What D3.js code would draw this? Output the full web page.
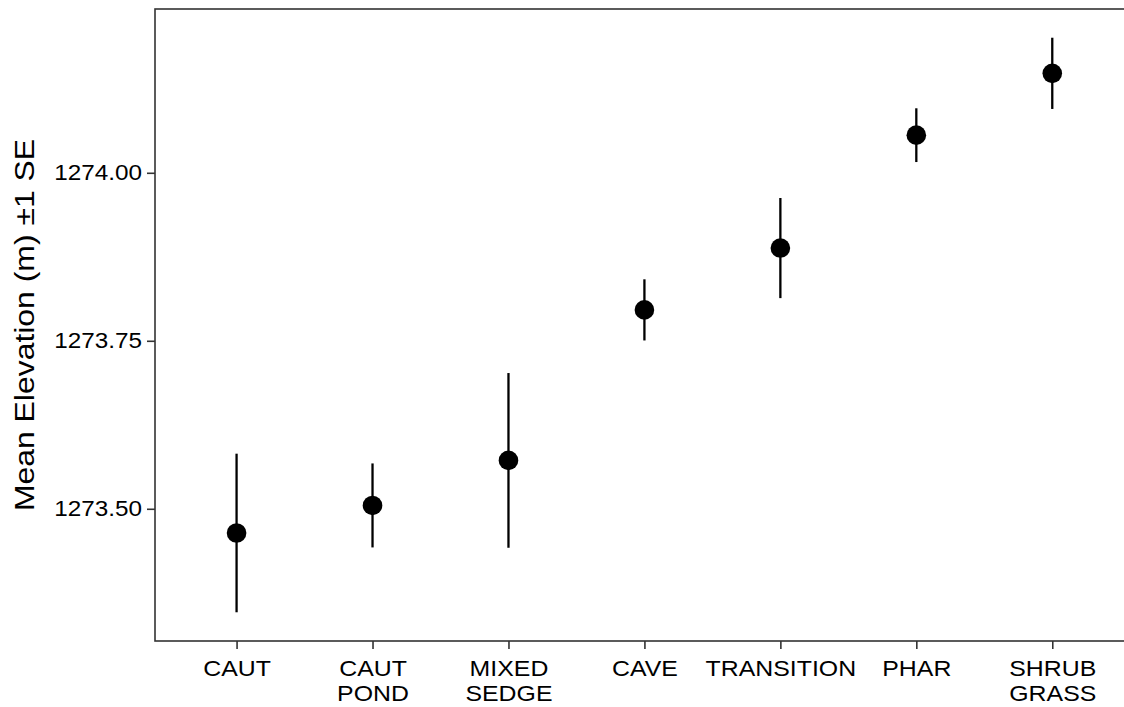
<!DOCTYPE html>
<html>
<head>
<meta charset="utf-8">
<script src="https://cdn.jsdelivr.net/npm/d3@7"></script>
<style>
  body { margin: 0; background: #fff; }
  svg { display: block; font-family: "Liberation Sans", Arial, sans-serif; }
</style>
</head>
<body>
<script>
// habitat categories, means and standard errors
const habitats = ["CAUT", "CAUT\nPOND", "MIXED\nSEDGE", "CAVE", "TRANSITION", "PHAR", "SHRUB\nGRASS"];
const meanElev = [1273.464, 1273.505, 1273.572, 1273.796, 1273.888, 1274.056, 1274.148];
const seElev   = [0.118, 0.0625, 0.130, 0.0455, 0.0745, 0.040, 0.053];
const yTicks   = [1273.50, 1273.75, 1274.00];

const width = 1124, height = 707;
const margin = { top: 9, left: 155, bottom: 66 };
const step = 135.95;
const plotW = step * (habitats.length + 0.2); // 0.6 step expansion each side
const plotH = height - margin.top - margin.bottom;
const stretch = 1.13; // glyphs in the original are a bit wide

const svg = d3.select("body").append("svg")
  .attr("width", width)
  .attr("height", height);

const data = habitats.map(function(h, i) {
  return { name: h, mean: meanElev[i], lo: meanElev[i] - seElev[i], hi: meanElev[i] + seElev[i] };
});

const xScale = d3.scalePoint()
  .domain(habitats)
  .range([0, plotW])
  .padding(0.6);

const lo = d3.min(data, d => d.lo), hi = d3.max(data, d => d.hi);
const pad = (hi - lo) * 0.05;
const yScale = d3.scaleLinear()
  .domain([lo - pad, hi + pad])
  .range([plotH, 0]);

const g = svg.append("g")
  .attr("transform", "translate(" + margin.left + " " + margin.top + ")");

// y axis
const yAxis = g.append("g")
  .call(d3.axisLeft(yScale).tickValues(yTicks).tickFormat(d3.format(".2f")).tickSize(8));
yAxis.select(".domain").remove();
yAxis.selectAll("line").attr("stroke", "#333").attr("stroke-width", 1.6);
yAxis.selectAll("text")
  .attr("x", 0)
  .attr("fill", "#000")
  .attr("font-size", 21.5)
  .attr("transform", "translate(-13 0) scale(" + stretch + " 1)");

// x axis, labels can be two lines
const xAxis = g.append("g")
  .attr("transform", "translate(0 " + plotH + ")")
  .call(d3.axisBottom(xScale).tickSize(8).tickFormat(""));
xAxis.select(".domain").remove();
xAxis.selectAll("line").attr("stroke", "#333").attr("stroke-width", 1.6);
xAxis.selectAll(".tick").append("text")
  .attr("fill", "#000")
  .attr("font-size", 22)
  .attr("text-anchor", "middle")
  .attr("transform", "scale(" + stretch + " 1)")
  .selectAll("tspan")
  .data(d => d.split("\n"))
  .join("tspan")
  .attr("x", 0)
  .attr("y", (d, i) => 35.5 + i * 25)
  .text(d => d);

// panel border
g.append("rect")
  .attr("width", plotW)
  .attr("height", plotH)
  .attr("fill", "none")
  .attr("stroke", "#333")
  .attr("stroke-width", 1.6);

// error bars
g.selectAll("line.err").data(data).join("line")
  .attr("class", "err")
  .attr("x1", d => xScale(d.name)).attr("x2", d => xScale(d.name))
  .attr("y1", d => yScale(d.lo)).attr("y2", d => yScale(d.hi))
  .attr("stroke", "#000")
  .attr("stroke-width", 2.3);

// means
g.selectAll("circle").data(data).join("circle")
  .attr("cx", d => xScale(d.name))
  .attr("cy", d => yScale(d.mean))
  .attr("r", 9.8)
  .attr("fill", "#000");

// y title
svg.append("text")
  .attr("transform", "translate(34 " + (margin.top + plotH / 2) + ") rotate(-90) scale(1.14 1)")
  .attr("text-anchor", "middle")
  .attr("font-size", 28)
  .attr("fill", "#000")
  .text("Mean Elevation (m) \u00b11 SE");
</script>
</body>
</html>
